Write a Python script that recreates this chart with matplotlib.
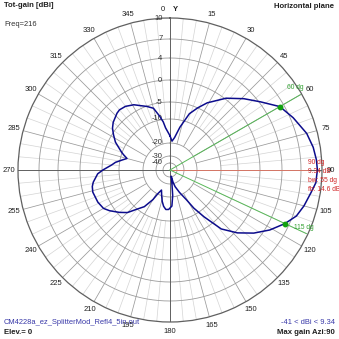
import numpy as np
import matplotlib
matplotlib.use("Agg")
import matplotlib.pyplot as plt

plt.rcParams['font.family'] = ['Liberation Sans', 'DejaVu Sans']

# ---- data ----
az_deg = [0, 4, 8, 13, 19, 24, 29, 38, 46, 53,
          60, 67, 75, 81, 86, 90, 95, 99, 105, 110,
          115, 121, 127, 133, 139, 144, 148, 151, 157, 163,
          166, 169, 172, 174, 177, 182, 186, 190, 194, 198,
          203, 207, 210, 215, 220, 225, 230, 236, 240, 246,
          254, 258, 261, 267, 270, 275, 278, 282, 285, 288,
          290, 293, 297, 302, 306, 310, 317, 320, 325, 331,
          335, 340, 345, 349, 352, 354, 357]
gain_dbi = [-17.0, -19.2, -17.6, -13.0, -7.5, -5.0, -3.0, 0.2, 2.3, 4.2,
            6.34, 7.4, 8.5, 9.0, 9.25, 9.34, 9.2, 8.7, 8.1, 7.5,
            6.34, 4.7, 2.7, 0.4, -2.7, -8.0, -12.5, -17.0, -22.0, -27.4,
            -32.0, -41.0, -30.0, -21.0, -16.2, -14.8, -14.7, -15.9, -17.8, -20.0,
            -24.0, -20.5, -17.0, -12.6, -10.0, -7.3, -5.6, -3.9, -3.0, -2.5,
            -2.2, -2.4, -2.8, -4.0, -5.26, -7.8, -8.8, -11.0, -12.7, -11.0,
            -9.9, -8.8, -7.0, -5.4, -4.3, -3.6, -2.8, -2.6, -2.8, -3.5,
            -4.3, -5.1, -6.2, -8.8, -11.0, -13.6, -15.5]

ring_db = [10, 7, 4, 0, -5, -10, -20, -30, -40]
ring_labels = ['10', '7', '4', '0', '-5', '-10', '-20', '-30', '-40']
azi_ticks = list(range(0, 360, 15))
bw_az = [60, 115]
max_az = 90
max_gain = 9.34
min_gain = -41
beamwidth = 55
front_back = 14.6
freq = 216
elev = 0
file_name = 'CM4228a_ez_SplitterMod_Refl4_5in.out'


# ---- EZNEC-like log radial scale ----
def rad(db):
    kd = np.array([-41, -40, -30, -20, -10, -5, 0, 4, 7, 10])
    kr = np.array([6.3, 7, 14, 27, 51, 68, 90, 112, 131, 152]) / 152.0
    return np.interp(db, kd, kr)


W = 339.0
fig = plt.figure(figsize=(3.39, 3.39), dpi=100)
fig.patch.set_facecolor('white')
R = 152.0
cx, cy = 170.0, 170.0
ax = fig.add_axes([(cx - R) / W, (W - cy - R) / W, 2 * R / W, 2 * R / W],
                  projection='polar')
ax.set_theta_zero_location('N')
ax.set_theta_direction(-1)
ax.set_ylim(0, 1)
ax.grid(False)
ax.set_xticks([])
ax.set_yticks([])
ax.spines['polar'].set_color('#606060')
ax.spines['polar'].set_linewidth(0.9)

# spokes
for a in range(0, 360, 5):
    t = np.deg2rad(a)
    if a % 90 == 0:
        continue
    if a % 15 == 0:
        ax.plot([t, t], [rad(-20), 1], color='#9a9a9a', lw=0.55, zorder=1)
    else:
        ax.plot([t, t], [rad(-10), 1], color='#d4d4d4', lw=0.5, zorder=0.9)

# rings
th = np.linspace(0, 2 * np.pi, 721)
for d in ring_db[1:]:
    ax.plot(th, np.full_like(th, rad(d)), color='#9a9a9a', lw=0.6, zorder=1)

# main axes lines
for a in (0, 90, 180, 270):
    t = np.deg2rad(a)
    ax.plot([t, t], [0, 1], color='#606060', lw=0.7, zorder=1.5)

# azimuth labels
for a in azi_ticks:
    if a == 0:
        ax.text(np.deg2rad(-2.6), 1.055, '0', ha='center', va='center',
                fontsize=5.5, color='#202020')
        ax.text(np.deg2rad(2.0), 1.055, 'Y', ha='center', va='center',
                fontsize=5.5, color='#202020', fontweight='bold')
        continue
    ax.text(np.deg2rad(a), 1.06, str(a), ha='center', va='center',
            fontsize=5.5, color='#202020')

# radial labels
for d, lab in zip(ring_db, ring_labels):
    ax.annotate(lab, xy=(0, rad(d)), xytext=(-5.5, 0), textcoords='offset points',
                ha='right', va='center', fontsize=5.5, color='#303030')

# max gain line (red)
ax.plot([np.deg2rad(max_az)] * 2, [0, 0.908], color='#d87868', lw=0.7, zorder=3)

# beamwidth lines and dots (green)
for a in bw_az:
    t = np.deg2rad(a)
    ax.plot([t, t], [0, 0.99], color='#58b858', lw=0.7, zorder=3)
    ax.plot([t], [rad(max_gain - 3)], 'o', color='#10a010', ms=3.2, zorder=5)
ax.text(np.deg2rad(56.5), 0.985, f'{bw_az[0]} dg', ha='center', va='center',
        fontsize=4.8, color='#30a030', zorder=6)
ax.text(np.deg2rad(113.3), 0.955, f'{bw_az[1]} dg', ha='center', va='center',
        fontsize=4.8, color='#30a030', zorder=6)

# pattern
t_pat = np.deg2rad(np.append(az_deg, az_deg[0] + 360))
r_pat = rad(np.append(gain_dbi, gain_dbi[0]))
ax.plot(t_pat, r_pat, color='#0c0c8c', lw=1.1, zorder=4)

# red annotation texts
red = '#d02424'
rx = 308 / W
for yy, s in [(162, f'{max_az} dg'), (171.5, f'{max_gain} dB'),
              (180.5, f'bw: {beamwidth} dg'), (189.5, f'fb: {front_back} dB')]:
    fig.text(rx, 1 - yy / W, s, ha='left', va='center', fontsize=4.8, color=red)

# corner texts
fig.text(4 / W, 1 - 5.5 / W, 'Tot-gain [dBi]', ha='left', va='center',
         fontsize=5.6, fontweight='bold', color='#202020')
fig.text(4 / W, 1 - 25 / W, f'Freq={freq}', ha='left', va='center',
         fontsize=5.4, color='#303030')
fig.text(334 / W, 1 - 6 / W, 'Horizontal plane', ha='right', va='center',
         fontsize=5.6, fontweight='bold', color='#202020')
fig.text(4 / W, 1 - 323 / W, file_name, ha='left', va='center',
         fontsize=5.4, color='#3838a8')
fig.text(4 / W, 1 - 333 / W, f'Elev.= {elev}', ha='left', va='center',
         fontsize=5.6, fontweight='bold', color='#202020')
fig.text(335 / W, 1 - 323 / W, f'{min_gain} < dBi < {max_gain}', ha='right',
         va='center', fontsize=5.4, color='#3838a8')
fig.text(335 / W, 1 - 333 / W, f'Max gain Azi:{max_az}', ha='right', va='center',
         fontsize=5.6, fontweight='bold', color='#202020')

fig.savefig('out.png', dpi=100, facecolor='white')
